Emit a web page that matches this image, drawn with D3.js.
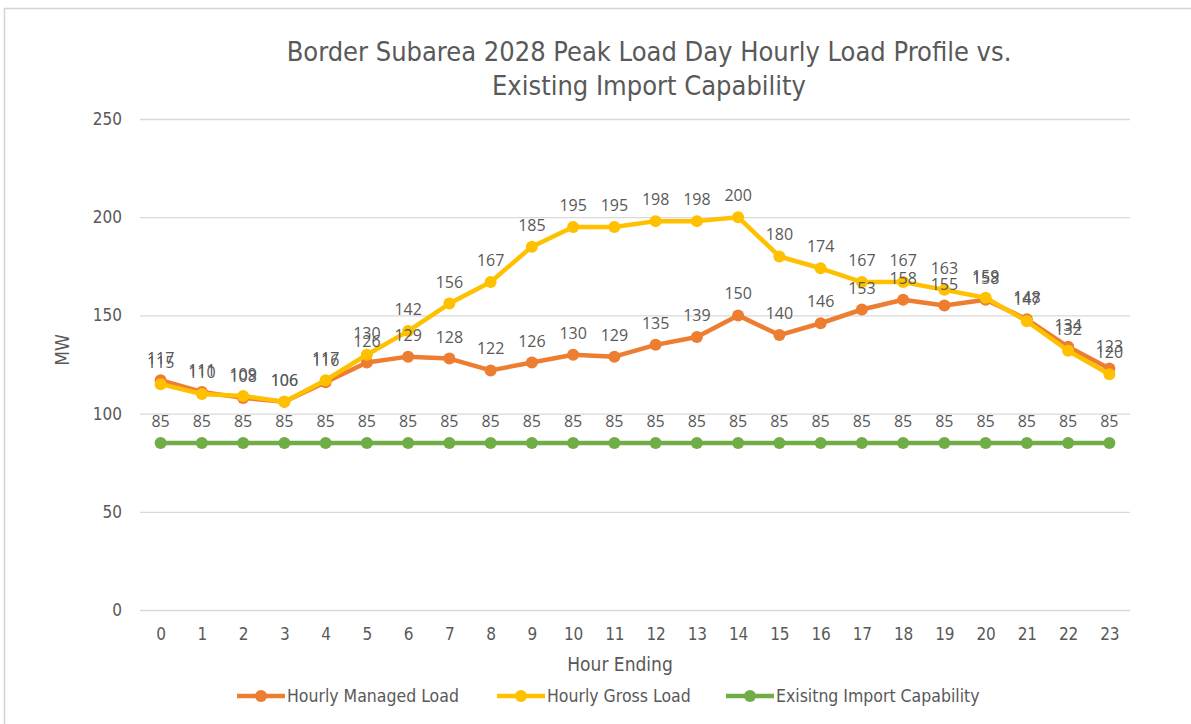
<!DOCTYPE html>
<html>
<head>
<meta charset="utf-8">
<script src="https://cdn.jsdelivr.net/npm/d3@7"></script>
<style>
  html, body { margin: 0; padding: 0; background: #fff; }
  svg { display: block; }
</style>
</head>
<body>
<svg id="chart" width="1191" height="724"></svg>
<script>
// Hour-ending categories and the three hourly series (MW)
const hours = ["0","1","2","3","4","5","6","7","8","9","10","11","12","13","14","15","16","17","18","19","20","21","22","23"];
const managedLoad = [117,111,108,106,116,126,129,128,122,126,130,129,135,139,150,140,146,153,158,155,158,148,134,123];
const grossLoad   = [115,110,109,106,117,130,142,156,167,185,195,195,198,198,200,180,174,167,167,163,159,147,132,120];
const importCap   = [85,85,85,85,85,85,85,85,85,85,85,85,85,85,85,85,85,85,85,85,85,85,85,85];
const yTicks = [0,50,100,150,200,250];

const seriesNames  = ["Hourly Managed Load", "Hourly Gross Load", "Exisitng Import Capability"];
const seriesColors = ["#ED7D31", "#FFC000", "#70AD47"];
const seriesValues = [managedLoad, grossLoad, importCap];

const narrow = "'Liberation Sans Narrow', 'DejaVu Sans Condensed', 'Arial Narrow', sans-serif";
const labelFont = "'Open Sans', 'DejaVu Sans', sans-serif";
const textGray = "#595959";

const svg = d3.select("#chart");

// outer frame
svg.append("path")
  .attr("d", "M4.5,724 V8.5 H1191")
  .attr("fill", "none")
  .attr("stroke", "#d4d4d4")
  .attr("stroke-width", 1.5);

const plot = { left: 140, right: 1130, top: 119, bottom: 610 };

const x = d3.scalePoint().domain(hours).range([plot.left, plot.right]).padding(0.5);
const y = d3.scaleLinear().domain([0, 250]).range([plot.bottom, plot.top]);

// title
const title = svg.append("text")
  .attr("text-anchor", "middle")
  .attr("font-family", narrow)
  .attr("font-size", 27)
  .attr("fill", textGray);
title.append("tspan").attr("x", 649).attr("y", 61).text("Border Subarea 2028 Peak Load Day Hourly Load Profile vs.");
title.append("tspan").attr("x", 649).attr("y", 95).text("Existing Import Capability");

// horizontal gridlines + y tick labels
const yAxis = d3.axisLeft(y).tickValues(yTicks).tickSize(-(plot.right - plot.left)).tickPadding(18);
const gy = svg.append("g").attr("transform", `translate(${plot.left},0)`).call(yAxis);
gy.select(".domain").remove();
gy.selectAll(".tick line").attr("stroke", "#d9d9d9").attr("stroke-width", 1.3);
gy.selectAll(".tick text")
  .attr("font-family", narrow).attr("font-size", 17).attr("fill", textGray);

// x tick labels
const xAxis = d3.axisBottom(x).tickSize(0).tickPadding(18);
const gx = svg.append("g").attr("transform", `translate(0,${plot.bottom})`).call(xAxis);
gx.select(".domain").remove();
gx.selectAll(".tick text")
  .attr("font-family", narrow).attr("font-size", 17).attr("fill", textGray);

// axis titles
svg.append("text")
  .attr("x", 620).attr("y", 671)
  .attr("text-anchor", "middle")
  .attr("font-family", narrow).attr("font-size", 19).attr("fill", textGray)
  .text("Hour Ending");
svg.append("text")
  .attr("transform", "translate(69,350) rotate(-90)")
  .attr("text-anchor", "middle")
  .attr("font-family", narrow).attr("font-size", 19).attr("fill", textGray)
  .text("MW");

// series lines and markers
const line = d3.line().x((d, i) => x(hours[i])).y(d => y(d));
seriesValues.forEach((vals, s) => {
  const g = svg.append("g");
  g.append("path")
    .attr("d", line(vals))
    .attr("fill", "none")
    .attr("stroke", seriesColors[s])
    .attr("stroke-width", 4.5)
    .attr("stroke-linejoin", "round");
  g.selectAll("circle").data(vals).join("circle")
    .attr("cx", (d, i) => x(hours[i]))
    .attr("cy", d => y(d))
    .attr("r", 6)
    .attr("fill", seriesColors[s]);
});

// data labels above each point
seriesValues.forEach((vals, s) => {
  svg.append("g").selectAll("text").data(vals).join("text")
    .attr("x", (d, i) => x(hours[i]))
    .attr("y", d => y(d) - 16)
    .attr("text-anchor", "middle")
    .attr("font-family", labelFont)
    .attr("font-size", 16)
    .attr("fill", textGray)
    .text(d => d);
});

// legend
const legendItems = [
  { x0: 237, name: seriesNames[0], color: seriesColors[0] },
  { x0: 497, name: seriesNames[1], color: seriesColors[1] },
  { x0: 726, name: seriesNames[2], color: seriesColors[2] }
];
const legendY = 696;
legendItems.forEach(it => {
  const g = svg.append("g");
  g.append("line")
    .attr("x1", it.x0).attr("x2", it.x0 + 48)
    .attr("y1", legendY).attr("y2", legendY)
    .attr("stroke", it.color).attr("stroke-width", 4.5);
  g.append("circle")
    .attr("cx", it.x0 + 24).attr("cy", legendY).attr("r", 6).attr("fill", it.color);
  g.append("text")
    .attr("x", it.x0 + 50).attr("y", legendY + 6)
    .attr("font-family", narrow).attr("font-size", 17.5).attr("fill", textGray)
    .text(it.name);
});
</script>
</body>
</html>
